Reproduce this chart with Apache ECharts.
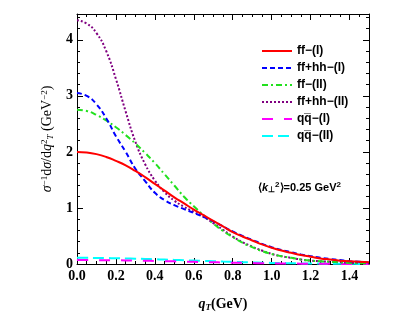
<!DOCTYPE html>
<html lang="en">
	<head>
		<meta charset="UTF-8" />
		<title>qT distribution</title>
		<style>
			body {
				margin: 0;
				padding: 0;
				background: #fff;
			}
			.chart {
				width: 409px;
				height: 327px;
			}
		</style>
	</head>
	<body>
		<div class="chart"></div>
		<script src="https://cdn.jsdelivr.net/npm/echarts@6/dist/echarts.min.js"></script>
		<script>
			// qT (GeV) grid
			const qT = [0, 0.05, 0.1, 0.15, 0.2, 0.25, 0.3, 0.35, 0.4, 0.45, 0.5, 0.55, 0.6, 0.65, 0.7, 0.75, 0.8, 0.85, 0.9, 0.95, 1.0, 1.05, 1.1, 1.15, 1.2, 1.25, 1.3, 1.35, 1.4, 1.45, 1.5];
			const ffI = [2.0, 1.99, 1.96, 1.91, 1.84, 1.76, 1.66, 1.55, 1.43, 1.31, 1.19, 1.08, 0.97, 0.87, 0.77, 0.67, 0.57, 0.49, 0.42, 0.35, 0.29, 0.24, 0.2, 0.16, 0.13, 0.1, 0.08, 0.06, 0.05, 0.04, 0.03];
			const ffhhI = [3.05, 3.0, 2.85, 2.6, 2.28, 2.0, 1.7, 1.48, 1.27, 1.14, 1.05, 0.98, 0.91, 0.84, 0.76, 0.67, 0.58, 0.5, 0.43, 0.36, 0.3, 0.25, 0.21, 0.17, 0.14, 0.11, 0.09, 0.07, 0.05, 0.04, 0.03];
			const ffII = [2.75, 2.73, 2.66, 2.56, 2.44, 2.3, 2.15, 1.98, 1.8, 1.6, 1.4, 1.2, 1.03, 0.87, 0.72, 0.59, 0.48, 0.38, 0.3, 0.23, 0.18, 0.14, 0.11, 0.08, 0.06, 0.05, 0.04, 0.03, 0.02, 0.015, 0.01];
			const ffhhII = [4.35, 4.29, 4.12, 3.8, 3.3, 2.72, 2.18, 1.78, 1.49, 1.28, 1.13, 1.02, 0.93, 0.84, 0.73, 0.61, 0.49, 0.39, 0.31, 0.24, 0.18, 0.14, 0.11, 0.08, 0.06, 0.05, 0.04, 0.03, 0.02, 0.015, 0.01];
			const qqI = [0.07, 0.07, 0.069, 0.068, 0.066, 0.064, 0.061, 0.058, 0.055, 0.051, 0.047, 0.043, 0.039, 0.035, 0.031, 0.027, 0.023, 0.02, 0.017, 0.014, 0.012, 0.01, 0.008, 0.006, 0.005, 0.004, 0.003, 0.002, 0.002, 0.001, 0.001];
			const qqII = [0.11, 0.11, 0.108, 0.106, 0.103, 0.099, 0.095, 0.09, 0.085, 0.079, 0.073, 0.067, 0.061, 0.055, 0.049, 0.043, 0.038, 0.033, 0.028, 0.024, 0.02, 0.017, 0.014, 0.011, 0.009, 0.007, 0.005, 0.004, 0.003, 0.002, 0.002];

			const names = ['ff−(I)', 'ff+hh−(I)', 'ff−(II)', 'ff+hh−(II)', 'qq̅−(I)', 'qq̅−(II)'];
			const colors = ['#ff0000', '#0000ff', '#22e01e', '#800080', '#ff00ff', '#00ffff'];
			const dashes = ['solid', [5, 3], [6, 3, 2, 3], [2, 2], [11, 11], [11, 5]];
			const values = [ffI, ffhhI, ffII, ffhhII, qqI, qqII];

			const serif = 'Liberation Serif, Times New Roman, serif';
			const sans = 'Liberation Sans, Arial, sans-serif';

			const container = document.querySelector('.chart');
			const instance = echarts.init(container, null, { renderer: 'canvas' });

			function frameAxis(pos, isX, showLabel) {
				return {
					type: 'value',
					position: pos,
					min: 0,
					max: isX ? 1.5 : 4.46,
					interval: isX ? 0.2 : 1,
					axisLine: { show: true, onZero: false, lineStyle: { color: '#000', width: 1 } },
					axisTick: { show: true, inside: true, length: 6, lineStyle: { color: '#000' } },
					minorTick: { show: true, splitNumber: isX ? 4 : 5, length: 3, lineStyle: { color: '#000' } },
					splitLine: { show: false },
					axisLabel: {
						show: showLabel,
						showMaxLabel: false,
						color: '#000',
						fontFamily: serif,
						fontWeight: 'bold',
						fontSize: 14,
						margin: isX ? 5 : 4,
						formatter: v => (isX ? v.toFixed(1) : String(v))
					}
				};
			}

			const xAxis = [frameAxis('bottom', true, true), frameAxis('top', true, false)];
			xAxis[0].name = '{q|q}{sub|T}(GeV)';
			xAxis[0].nameLocation = 'middle';
			xAxis[0].nameGap = 33;
			xAxis[0].nameTextStyle = {
				color: '#000',
				fontFamily: serif,
				fontWeight: 'bold',
				fontSize: 14,
				rich: {
					q: { fontFamily: serif, fontWeight: 'bold', fontStyle: 'italic', fontSize: 14, color: '#000' },
					sub: { fontFamily: serif, fontWeight: 'bold', fontStyle: 'italic', fontSize: 9, color: '#000', verticalAlign: 'bottom', padding: [6, 0, 0, 0] }
				}
			};
			const yAxis = [frameAxis('left', false, true), frameAxis('right', false, false)];
			yAxis[0].name = '{i|σ}{sup|−1}d{i|σ}/d{i|q}{sup|2}{sub|T} (GeV{sup|−2})';
			yAxis[0].nameLocation = 'middle';
			yAxis[0].nameGap = 22;
			yAxis[0].nameTextStyle = {
				color: '#000',
				fontFamily: serif,
				fontSize: 14,
				rich: {
					i: { fontFamily: serif, fontStyle: 'italic', fontSize: 14, color: '#000' },
					sup: { fontFamily: serif, fontSize: 9, color: '#000', verticalAlign: 'top', padding: [0, 0, 6, 0] },
					sub: { fontFamily: serif, fontStyle: 'italic', fontSize: 9, color: '#000', verticalAlign: 'bottom', padding: [6, 0, 0, 0] }
				}
			};

			const series = names.map((n, k) => ({
				name: n,
				type: 'line',
				smooth: true,
				symbol: 'none',
				xAxisIndex: 0,
				yAxisIndex: 0,
				itemStyle: { color: colors[k] },
				lineStyle: { color: colors[k], width: 2, type: dashes[k] },
				data: qT.map((q, i) => [q, values[k][i]]),
				z: 10 - k
			}));

			const option = {
				animation: false,
				backgroundColor: '#fff',
				grid: { left: 77, right: 40, top: 14, bottom: 63, containLabel: false },
				xAxis: xAxis,
				yAxis: yAxis,
				legend: {
					orient: 'vertical',
					left: 256,
					top: 40,
					itemWidth: 30,
					itemHeight: 12,
					itemGap: 5,
					itemStyle: { opacity: 0 },
					textStyle: { fontFamily: sans, fontWeight: 'bold', fontSize: 12, color: '#000' },
					data: names
				},
				graphic: [
					{
						type: 'text',
						left: 258,
						top: 181,
						style: {
							text: '⟨{i|k}{sub|⊥}{sup|2}⟩=0.25 GeV{sup|2}',
							font: 'bold 11px ' + sans,
							fill: '#000',
							rich: {
								i: { fontFamily: sans, fontWeight: 'bold', fontStyle: 'italic', fontSize: 11, fill: '#000' },
								sup: { fontFamily: sans, fontWeight: 'bold', fontSize: 8, fill: '#000', verticalAlign: 'top', padding: [0, 0, 5, 0] },
								sub: { fontFamily: sans, fontWeight: 'bold', fontSize: 8, fill: '#000', verticalAlign: 'bottom', padding: [5, 0, 0, 0] }
							}
						}
					}
				],
				series: series
			};
			instance.setOption(option);
		</script>
	</body>
</html>
